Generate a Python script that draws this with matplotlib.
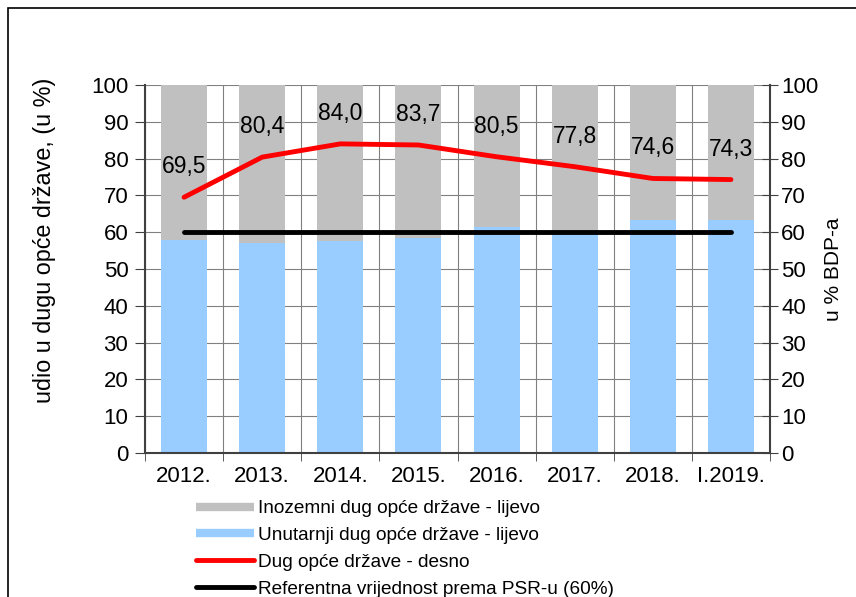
import matplotlib.pyplot as plt
from matplotlib.lines import Line2D
from matplotlib.patches import Rectangle
from matplotlib.ticker import FixedLocator, NullFormatter

plt.rcParams['font.family'] = ['Liberation Sans', 'DejaVu Sans']

# podaci
godine = ['2012.', '2013.', '2014.', '2015.', '2016.', '2017.', '2018.', 'I.2019.']
unutarnji = [57.8, 57.1, 57.6, 58.5, 61.3, 59.9, 63.4, 63.2]
inozemni = [100 - u for u in unutarnji]
dug_bdp = [69.5, 80.4, 84.0, 83.7, 80.5, 77.8, 74.6, 74.3]
referentna = [60] * len(godine)
oznake = ['69,5', '80,4', '84,0', '83,7', '80,5', '77,8', '74,6', '74,3']

fig = plt.figure(figsize=(8.56, 5.97), dpi=100)
ax = fig.add_axes([145 / 856, 1 - 453 / 597, 625 / 856, 368 / 597])
x = list(range(len(godine)))

ax.bar(x, unutarnji, width=0.59, color='#99ccff', zorder=2)
ax.bar(x, inozemni, width=0.59, bottom=unutarnji, color='#c0c0c0', zorder=2)

ax.set_xlim(-0.5, 7.5)
ax.set_ylim(0, 100)
ax.set_yticks(range(0, 101, 10))
ax.set_xticks(x)
ax.set_xticklabels(godine)
ax.xaxis.set_minor_locator(FixedLocator([i + 0.5 for i in range(-1, 8)]))
ax.xaxis.set_minor_formatter(NullFormatter())
ax.tick_params(axis='x', which='major', length=0, labelsize=16, pad=9)
ax.tick_params(axis='x', which='minor', length=6, direction='out', color='#404040')
ax.tick_params(axis='y', length=7, direction='out', labelsize=16, color='#404040', pad=5)
ax.grid(axis='y', color='#808080', linewidth=0.8, zorder=0)
ax.grid(axis='x', which='minor', color='#808080', linewidth=0.8, zorder=0)
ax.set_axisbelow(True)
for s in ['left', 'bottom', 'right', 'top']:
    ax.spines[s].set_color('#404040')
    ax.spines[s].set_linewidth(1.5)
ax.spines['top'].set_visible(False)
fig.text(45 / 856, 1 - 240 / 597, 'udio u dugu opće države, (u %)', rotation=90,
         ha='center', va='center', fontsize=16.8)

ax2 = ax.twinx()
ax2.set_ylim(0, 100)
ax2.set_yticks(range(0, 101, 10))
ax2.tick_params(axis='y', length=12, direction='inout', labelsize=16, color='#404040', pad=2)
for s in ['left', 'bottom', 'right', 'top']:
    ax2.spines[s].set_visible(False)
ax2.set_ylabel('u % BDP-a', fontsize=15, labelpad=4)

ax2.plot(x, referentna, color='black', linewidth=3.5, solid_capstyle='round', zorder=3)
ax2.plot(x, dug_bdp, color='#ff0000', linewidth=3.5, solid_capstyle='round', zorder=4)
for xi, v, t in zip(x, dug_bdp, oznake):
    ax2.annotate(t, (xi, v), xytext=(0, 22), textcoords='offset points',
                 ha='center', va='center', fontsize=16.5)

handles = [
    Line2D([], [], color='#c0c0c0', linewidth=6, solid_capstyle='butt'),
    Line2D([], [], color='#99ccff', linewidth=6, solid_capstyle='butt'),
    Line2D([], [], color='#ff0000', linewidth=3.5, solid_capstyle='round'),
    Line2D([], [], color='black', linewidth=3.5, solid_capstyle='round'),
]
labels = ['Inozemni dug opće države - lijevo', 'Unutarnji dug opće države - lijevo',
          'Dug opće države - desno', 'Referentna vrijednost prema PSR-u (60%)']
fig.legend(handles, labels, loc='upper left', bbox_to_anchor=(196 / 856, 1 - 500 / 597),
           frameon=False, fontsize=13.7, handlelength=3.05, handletextpad=0.2,
           labelspacing=0.5, borderpad=0, borderaxespad=0)

fig.add_artist(Rectangle((8 / 856, -0.1), 1.2, 1 - 8 / 597 + 0.1, transform=fig.transFigure,
                         fill=False, edgecolor='black', linewidth=1.2))

fig.savefig('out.png', dpi=100)
